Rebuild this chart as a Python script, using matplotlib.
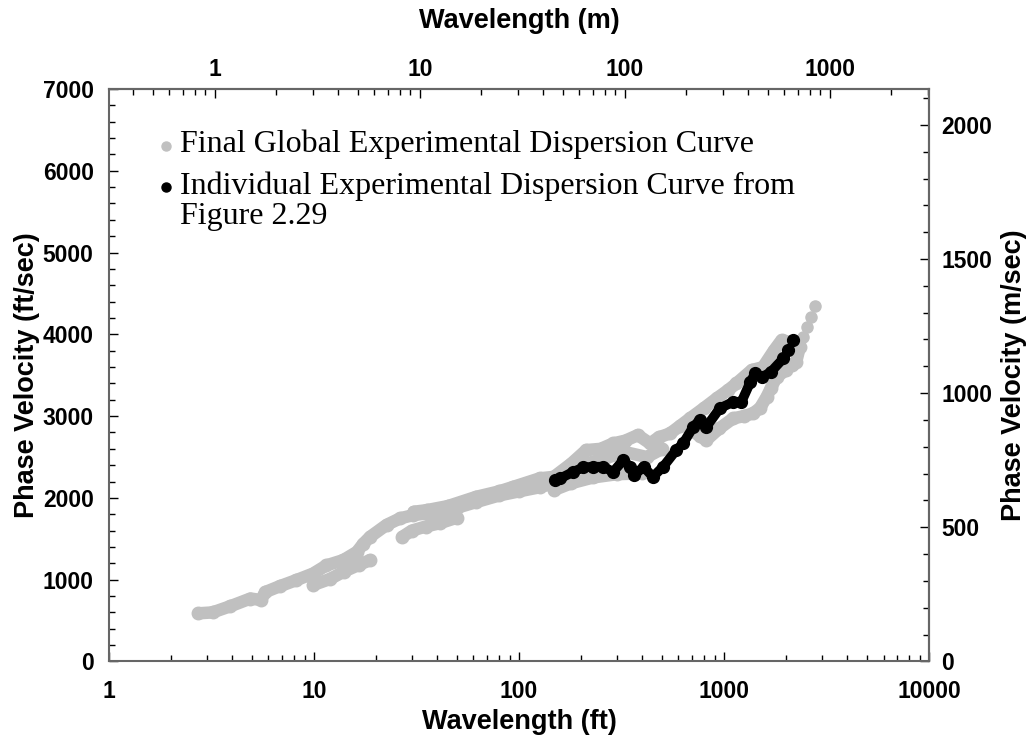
import numpy as np
import matplotlib
matplotlib.use("Agg")
from matplotlib import pyplot as plt
from matplotlib.ticker import FixedLocator, LogLocator, MultipleLocator, FuncFormatter, NullFormatter

# gray: final global dispersion curve in pieces (ft, ft/sec)
gray_main_ft = [2.73, 3.2, 3.9, 4.9, 5.5, 5.8, 6.8, 8.2, 9.9, 11.5, 13.9, 16.2, 17.4, 18.8, 22.6, 26.3, 30.5, 35.5, 39.7, 50, 62, 80, 100, 126, 148]
gray_main_v = [589, 600, 675, 770, 752, 850, 920, 995, 1075, 1175, 1240, 1340, 1440, 1525, 1670, 1750, 1790, 1810, 1770, 1880, 1950, 2030, 2080, 2130, 2180]

gray_low1_ft = [9.9, 12, 14, 16.5, 18.8]
gray_low1_v = [935, 1010, 1100, 1180, 1240]

gray_low2_ft = [27, 30, 35, 41, 50]
gray_low2_v = [1525, 1600, 1650, 1690, 1760]

gray_up_ft = [30.6, 35.4, 45, 62, 80, 94, 126, 148]
gray_up_v = [1830, 1850, 1900, 2014, 2080, 2136, 2239, 2258]

gray_mid_ft = [150, 200, 260, 330, 420, 500]
gray_mid_v = [2240, 2400, 2480, 2560, 2500, 2600]

gray_hi_ft = [148, 180, 213, 250, 288, 330, 380, 436, 480, 545, 610, 682, 800, 920, 1050, 1150, 1364, 1550, 1750, 1910, 2150, 2345, 2250, 2150]
gray_hi_v = [2258, 2420, 2585, 2600, 2666, 2700, 2768, 2666, 2740, 2788, 2880, 2972, 3100, 3216, 3320, 3400, 3562, 3600, 3800, 3929, 3900, 3847, 3664, 3620]

gray_lo_ft = [148, 180, 230, 300, 400]
gray_lo_v = [2096, 2180, 2250, 2290, 2300]

gray_lo2_ft = [682, 760, 820, 950, 1107, 1250, 1385, 1500, 1615, 1700, 1810, 2000]
gray_lo2_v = [2829, 2760, 2707, 2850, 2972, 3000, 3033, 3100, 3236, 3350, 3480, 3560]

gray_tail_ft = [2436, 2536, 2660, 2790]
gray_tail_v = [3969, 4084, 4206, 4344]

# black: individual curve from Figure 2.29
black_ft = [150, 159, 184, 206, 230, 258, 288, 323, 347, 366, 405, 450, 505, 585, 632, 709, 760, 821, 953, 1107, 1217, 1346, 1419, 1541, 1695, 1945]
black_v = [2218, 2239, 2319, 2373, 2381, 2381, 2319, 2462, 2381, 2279, 2381, 2258, 2381, 2585, 2666, 2870, 2951, 2870, 3094, 3175, 3175, 3419, 3522, 3480, 3541, 3705]
black_tail_ft = [2055, 2159]
black_tail_v = [3806, 3929]

ft2m = 0.3048

plt.rcParams['font.family'] = ['Liberation Sans', 'DejaVu Sans']
plt.rcParams['font.weight'] = 'bold'

fig, ax = plt.subplots(figsize=(10.29, 7.46), dpi=100)
fig.subplots_adjust(left=0.1059, right=0.9028, bottom=0.1133, top=0.8807)

gcol = '#c0c0c0'
segs = [(gray_main_ft, gray_main_v), (gray_low1_ft, gray_low1_v), (gray_low2_ft, gray_low2_v),
        (gray_up_ft, gray_up_v), (gray_mid_ft, gray_mid_v), (gray_hi_ft, gray_hi_v),
        (gray_lo_ft, gray_lo_v), (gray_lo2_ft, gray_lo2_v)]
for fx, fv in segs:
    ax.plot(fx, fv, color=gcol, lw=9, marker='o', ms=9, solid_capstyle='round', solid_joinstyle='round', zorder=2)
ax.plot(gray_tail_ft, gray_tail_v, 'o', color=gcol, ms=8, zorder=2)

ax.plot(black_ft, black_v, color='black', lw=7, marker='o', ms=8.5, solid_capstyle='round', solid_joinstyle='round', zorder=3)
ax.plot(black_tail_ft, black_tail_v, 'o', color='black', ms=8.5, zorder=3)

ax.set_xscale('log')
ax.set_xlim(1, 10000)
ax.set_ylim(0, 7000)

fmt = FuncFormatter(lambda v, p: '%g' % v)
ax.xaxis.set_major_locator(FixedLocator([1, 10, 100, 1000, 10000]))
ax.xaxis.set_major_formatter(fmt)
ax.xaxis.set_minor_locator(LogLocator(base=10, subs=np.arange(2, 10)))
ax.xaxis.set_minor_formatter(NullFormatter())
ax.yaxis.set_major_locator(FixedLocator(np.arange(0, 7001, 1000)))
ax.yaxis.set_minor_locator(MultipleLocator(200))

for s in ax.spines.values():
    s.set_color('#666666')
    s.set_linewidth(1.5)

ax.tick_params(which='major', direction='in', length=6.5, width=1, labelsize=16.5)
ax.tick_params(which='minor', direction='in', length=4.3, width=1)
ax.tick_params(axis='x', pad=13)
ax.tick_params(axis='y', pad=11)

ax.set_xlabel('Wavelength (ft)', fontsize=19.5, fontweight='bold', labelpad=5)
ax.set_ylabel('Phase Velocity (ft/sec)', fontsize=19.5, fontweight='bold', labelpad=2)

# top axis in metres
top = ax.secondary_xaxis('top', functions=(lambda x: x * ft2m, lambda x: x / ft2m))
top.xaxis.set_major_locator(FixedLocator([1, 10, 100, 1000]))
top.xaxis.set_major_formatter(fmt)
top.xaxis.set_minor_locator(LogLocator(base=10, subs=np.arange(2, 10)))
top.xaxis.set_minor_formatter(NullFormatter())
top.tick_params(which='major', direction='in', length=6.5, width=1, labelsize=16.5, pad=6)
top.tick_params(which='minor', direction='in', length=4.3, width=1)
top.set_xlabel('Wavelength (m)', fontsize=19.5, fontweight='bold', labelpad=21)

# right axis in m/sec
right = ax.secondary_yaxis('right', functions=(lambda v: v * ft2m, lambda v: v / ft2m))
right.yaxis.set_major_locator(FixedLocator([0, 500, 1000, 1500, 2000]))
right.yaxis.set_minor_locator(FixedLocator(np.arange(0, 2101, 100)))
right.tick_params(which='major', direction='in', length=6.5, width=1, labelsize=16.5, pad=9)
right.tick_params(which='minor', direction='in', length=4.3, width=1)
right.set_ylabel('Phase Velocity (m/sec)', fontsize=19.5, fontweight='bold', labelpad=6)
for s in list(top.spines.values()) + list(right.spines.values()):
    s.set_color('#666666')
    s.set_linewidth(1.5)

# legend drawn by hand
serif = ['Liberation Serif', 'DejaVu Serif']
ax.plot([0.070], [0.900], 'o', color=gcol, ms=6.5, transform=ax.transAxes)
ax.text(0.087, 0.904, 'Final Global Experimental Dispersion Curve', transform=ax.transAxes,
        family=serif, fontweight='normal', fontsize=23, va='center')
ax.plot([0.070], [0.829], 'o', color='black', ms=6.5, transform=ax.transAxes)
ax.text(0.087, 0.830, 'Individual Experimental Dispersion Curve from', transform=ax.transAxes,
        family=serif, fontweight='normal', fontsize=23, va='center')
ax.text(0.087, 0.777, 'Figure 2.29', transform=ax.transAxes,
        family=serif, fontweight='normal', fontsize=23, va='center')

fig.savefig('out.png', dpi=100)
